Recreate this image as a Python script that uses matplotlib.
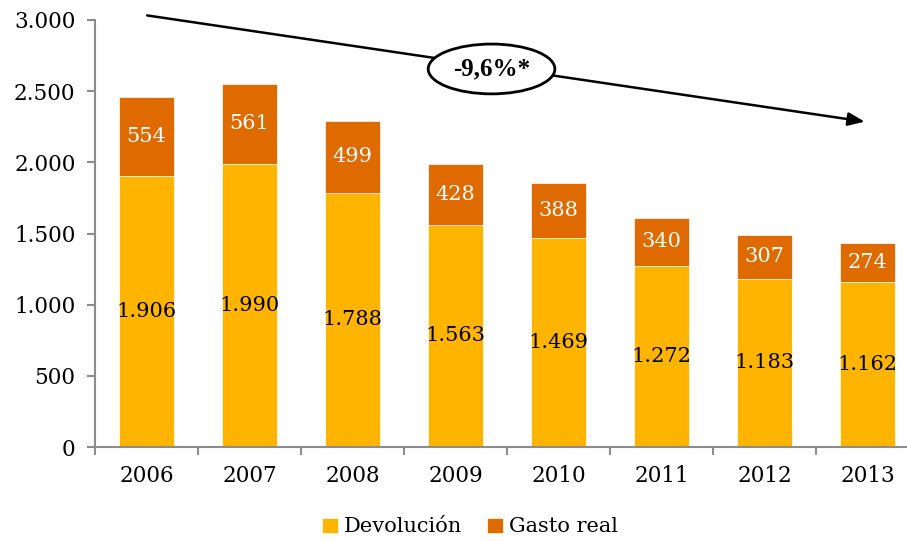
import numpy as np
import matplotlib.pyplot as plt
from matplotlib.patches import Ellipse

# Data
years = ['2006', '2007', '2008', '2009', '2010', '2011', '2012', '2013']
devolucion = [1906, 1990, 1788, 1563, 1469, 1272, 1183, 1162]
gasto_real = [554, 561, 499, 428, 388, 340, 307, 274]
yticks = [0, 500, 1000, 1500, 2000, 2500, 3000]
ytick_labels = ['0', '500', '1.000', '1.500', '2.000', '2.500', '3.000']
trend_label = '-9,6%*'

c_dev = '#FFB500'
c_gas = '#DE6A00'
grey = '#8c8c8c'
serif = 'DejaVu Serif'

fig = plt.figure(figsize=(9.07, 5.41), dpi=100)
ax = fig.add_axes([95/907, 94/541, 824/907, 427/541])

x = np.arange(len(years))
w = 0.535
ax.bar(x, devolucion, w, color=c_dev, edgecolor='white', linewidth=0.5, label='Devolución')
ax.bar(x, gasto_real, w, bottom=devolucion, color=c_gas, edgecolor='white', linewidth=0.5, label='Gasto real')

def fmt(v):
    return f'{v:,}'.replace(',', '.')

for i in range(len(years)):
    ax.text(x[i], devolucion[i] / 2, fmt(devolucion[i]), ha='center', va='center',
            fontsize=15, family=serif, color='black')
    ax.text(x[i], devolucion[i] + gasto_real[i] / 2, fmt(gasto_real[i]), ha='center', va='center',
            fontsize=15, family=serif, color='white')

ax.set_xlim(-0.5, len(years) - 0.5)
ax.set_ylim(0, 3000)
ax.set_yticks(yticks)
ax.set_yticklabels(ytick_labels, family=serif, fontsize=15.5)
ax.set_xticks(x)
ax.set_xticklabels(years, family=serif, fontsize=15.5)
ax.set_xticks(np.arange(-0.5, len(years)), minor=True)
ax.tick_params(axis='x', which='major', length=0, pad=13)
ax.tick_params(axis='x', which='minor', length=6, width=1.5, color=grey, direction='out')
ax.tick_params(axis='y', length=6, width=1.5, color=grey, direction='out', pad=8)

for s in ['top', 'right']:
    ax.spines[s].set_visible(False)
for s in ['left', 'bottom']:
    ax.spines[s].set_color(grey)
    ax.spines[s].set_linewidth(1.5)

# trend arrow with ellipse
ax.annotate('', xy=(7.0, 2283), xytext=(-0.02, 3035),
            arrowprops=dict(arrowstyle='-|>,head_length=1.0,head_width=0.4', color='black', lw=1.8),
            annotation_clip=False)
ell = Ellipse((3.35, 2656), 1.23, 350, facecolor='white', edgecolor='black', lw=2,
              zorder=5, clip_on=False)
ax.add_patch(ell)
ax.text(3.35, 2660, trend_label, ha='center', va='center', fontsize=18, fontweight='bold',
        family='Liberation Serif', zorder=6)

fig.legend(loc='center', bbox_to_anchor=(470/907, 1 - 527/541), ncol=2, frameon=False,
           prop={'family': serif, 'size': 15}, handlelength=0.75, handleheight=0.75,
           handletextpad=0.3, columnspacing=1.2)

fig.savefig('out.png', dpi=100)
